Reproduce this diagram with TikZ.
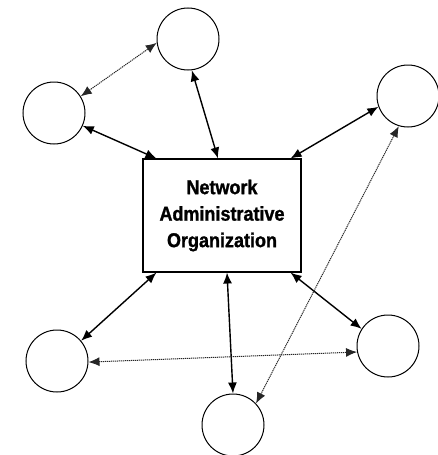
\documentclass[tikz,border=0pt]{standalone}
\usepackage{fontspec}
\newfontfamily\orgfont[FakeStretch=0.9,FakeBold=1.2]{Liberation Sans}
\usetikzlibrary{arrows.meta}
\tikzset{
	member/.style={draw,circle,minimum size=62pt,inner sep=0pt,line width=1pt},
	nao/.style={draw,rectangle,minimum width=158pt,minimum height=113pt,line width=1.1pt,align=center,font=\orgfont\bfseries\fontsize{20}{26.5}\selectfont},
	tie/.style={<->,line width=1.4pt},
	weaktie/.style={<->,line width=1pt,black!85,dash pattern=on 1.2pt off 0.8pt}
}
\begin{document}
\begin{tikzpicture}[x=1pt,y=-1pt,>={Latex[length=11pt,width=9pt]}]
			\useasboundingbox (0,0) rectangle (438,455);
			\node[nao] (org) at (222,215.5) {Network\\Administrative\\Organization};
			\node[member] (top) at (188,39) {};
			\node[member] (ul) at (54,113) {};
			\node[member] (rt) at (408,96) {};
			\node[member] (ll) at (57,361) {};
			\node[member] (lr) at (388,346) {};
			\node[member] (bt) at (233,425) {};
			\draw[tie](top.-83)--([xshift=-4pt]org.north);
			\draw[tie](ul.-24)--([xshift=14pt]org.north west);
			\draw[tie](rt.200)--([xshift=-11pt]org.north east);
			\draw[tie]([xshift=14pt]org.south west)--(ll.40);
			\draw[tie]([xshift=5pt]org.south)--(bt.90);
			\draw[tie]([xshift=-11pt]org.south east)--(lr.147);
			\draw[weaktie](ul.32)--(top.187);
			\draw[weaktie](rt.253)--(bt.43);
			\draw[weaktie](ll.-2)--(lr.191);
		\end{tikzpicture}
\end{document}
